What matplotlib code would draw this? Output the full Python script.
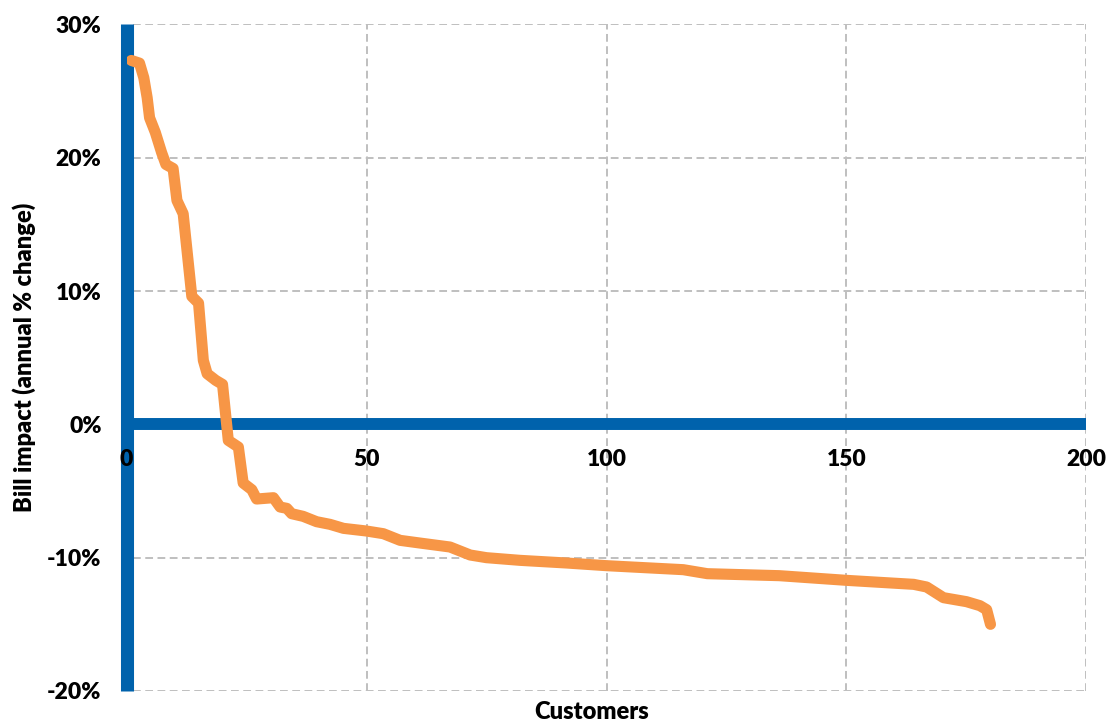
import matplotlib
matplotlib.use("Agg")
import matplotlib.pyplot as plt
from matplotlib.ticker import FuncFormatter

# Customers ranked by bill impact (annual % change)
customers = [1, 2.7, 3.6, 4.3, 4.8, 6.0, 7.3, 8.2, 9.7, 10.5, 11.8, 13.6, 15.0,
             16.0, 16.8, 18.6, 20.0, 21.2, 23.3, 24.3, 26.1, 27.1, 30.6, 32.0,
             33.4, 34.4, 36.8, 39.6, 42.4, 45.2, 50.0, 53.5, 57.0, 61.1, 67.4,
             71.6, 75.0, 82.0, 91.7, 100, 116, 121, 136, 150, 164, 166.7, 170.2,
             175, 177.8, 179.2, 180]
bill_impact = [27.3, 27.1, 26.0, 24.5, 23.0, 21.9, 20.4, 19.5, 19.2, 16.8, 15.8,
               9.6, 9.1, 4.8, 3.8, 3.3, 3.0, -1.2, -1.7, -4.4, -4.9, -5.6, -5.5,
               -6.2, -6.3, -6.7, -6.9, -7.3, -7.5, -7.8, -8.0, -8.2, -8.7, -8.9,
               -9.2, -9.8, -10.0, -10.2, -10.4, -10.6, -10.9, -11.2, -11.35, -11.7,
               -12.0, -12.2, -13.0, -13.3, -13.6, -13.9, -15.0]

x_ticks = [0, 50, 100, 150, 200]
y_ticks = [-20, -10, 0, 10, 20, 30]

BLUE = "#0062AC"
ORANGE = "#F79646"
GRID = "#BFBFBF"
WEIGHT = "heavy"

plt.rcParams["font.family"] = ["Lato", "DejaVu Sans"]

fig = plt.figure(figsize=(11.09, 7.24), dpi=100)
ax = fig.add_axes([0.1141, 0.0456, 0.9797 - 0.1141, 0.9662 - 0.0456])

ax.set_xlim(0, 200)
ax.set_ylim(-20, 30)

# Dashed grid, skipping the lines hidden under the axis bars
for xv in x_ticks:
    if xv != 0:
        ax.axvline(xv, color=GRID, lw=1.4, ls=(0, (4, 2.3)), zorder=1)
for yv in y_ticks:
    if yv != 0:
        ax.axhline(yv, xmin=0.007, color=GRID, lw=1.4, ls=(0, (4, 2.3)), zorder=1)

ax.plot(customers, bill_impact, color=ORANGE, lw=8.0,
        solid_capstyle="round", solid_joinstyle="round", zorder=4)

for side in ("top", "right"):
    ax.spines[side].set_visible(False)
ax.spines["left"].set_color(BLUE)
ax.spines["left"].set_linewidth(9.4)
ax.spines["left"].set_capstyle("butt")
ax.spines["bottom"].set_position(("data", 0))
ax.spines["bottom"].set_color(BLUE)
ax.spines["bottom"].set_linewidth(8.6)
ax.spines["bottom"].set_capstyle("butt")

ax.set_xticks(x_ticks)
ax.set_yticks(y_ticks)
ax.yaxis.set_major_formatter(FuncFormatter(lambda v, p: f"{v:.0f}%"))
ax.tick_params(axis="both", length=0, labelsize=16.5, colors="black")
ax.tick_params(axis="x", pad=18)
ax.tick_params(axis="y", pad=18)
for lbl in ax.get_xticklabels() + ax.get_yticklabels():
    lbl.set_fontweight(WEIGHT)
ax.xaxis.set_zorder(3)
ax.yaxis.set_zorder(3)

ax.set_xlabel("Customers", fontsize=17, fontweight=WEIGHT)
ax.xaxis.set_label_coords((592 - 126.5) / 960, -0.0315)
ax.xaxis.label.set_va("center")
ax.set_ylabel("Bill impact (annual % change)", fontsize=17, fontweight=WEIGHT)
ax.yaxis.set_label_coords((24 - 126.5) / 960, 0.5)
ax.yaxis.label.set_va("center")

fig.savefig("out.png", dpi=100)
